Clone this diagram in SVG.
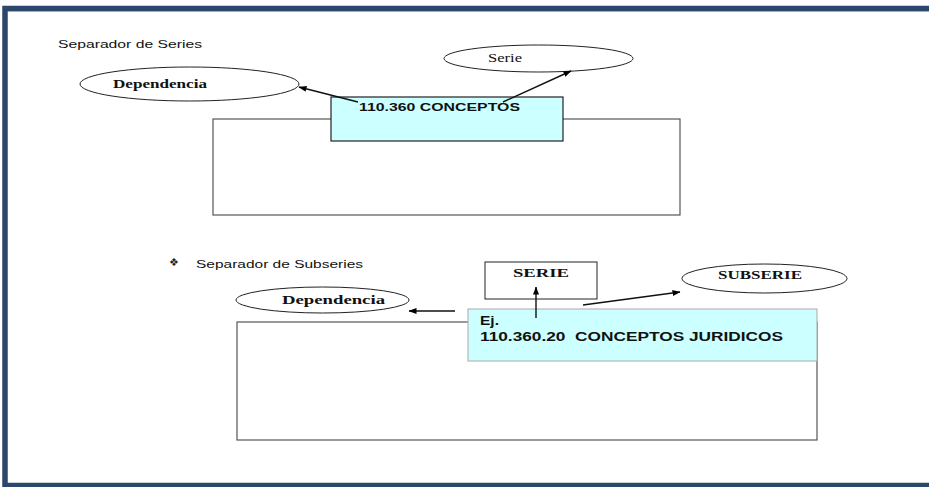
<svg xmlns="http://www.w3.org/2000/svg" width="929" height="487" viewBox="0 0 929 487">
<defs>
<marker id="ah" markerWidth="8" markerHeight="6" refX="7.5" refY="3" orient="auto" markerUnits="userSpaceOnUse">
<path d="M0,0 L8,3 L0,6 Z" fill="#000"/>
</marker>
<style>
.sans{font-family:"Liberation Sans",Arial,sans-serif;fill:#111}
.serifb{font-family:"Liberation Serif","Times New Roman",serif;font-weight:bold;fill:#111}
.serif{font-family:"Liberation Serif","Times New Roman",serif;fill:#111}
.ell{fill:#fff;stroke:#222;stroke-width:1}
.box{fill:#fff;stroke:#555;stroke-width:1.2}
.cyan{fill:#ccffff;stroke:#222;stroke-width:1.2}
.conn{stroke:#111;stroke-width:1.4;fill:none;marker-end:url(#ah)}
</style>
</defs>
<rect x="0" y="0" width="929" height="487" fill="#fff"/>
<rect x="5" y="8.5" width="960" height="477" fill="none" stroke="#2b476b" stroke-width="5.5"/>
<line x1="8" y1="11.5" x2="929" y2="11.5" stroke="#9fb0c4" stroke-width="1"/>

<text class="sans" x="58" y="48" font-size="11" textLength="144" lengthAdjust="spacingAndGlyphs">Separador de Series</text>

<g id="rect-series">
<rect class="box" x="213" y="119" width="467" height="96"/>
</g>
<g id="dependencia-1">
<ellipse class="ell" cx="189.5" cy="84" rx="109.5" ry="17"/>
<text class="serifb" x="113" y="88" font-size="12.5" textLength="94" lengthAdjust="spacingAndGlyphs">Dependencia</text>
</g>
<g id="serie-1">
<ellipse class="ell" cx="538.5" cy="58.5" rx="94.5" ry="13.5"/>
<text class="serif" x="488" y="62" font-size="11.5" textLength="34" lengthAdjust="spacingAndGlyphs">Serie</text>
</g>
<g id="conceptos">
<rect class="cyan" x="331" y="97" width="232" height="44"/>
<text class="sans" x="359" y="111" font-size="10.5" font-weight="bold" textLength="161" lengthAdjust="spacingAndGlyphs">110.360 CONCEPTOS</text>
</g>

<text x="169" y="266" font-size="11" fill="#222" style="font-family:'DejaVu Sans',sans-serif">❖</text>
<text class="sans" x="196" y="268" font-size="11" textLength="167" lengthAdjust="spacingAndGlyphs">Separador de Subseries</text>

<g id="rect-subseries">
<rect class="box" x="237" y="322" width="580" height="118"/>
</g>
<g id="dependencia-2">
<ellipse class="ell" cx="322.5" cy="300" rx="86.5" ry="13"/>
<text class="serifb" x="282" y="304" font-size="13.5" textLength="103" lengthAdjust="spacingAndGlyphs">Dependencia</text>
</g>
<g id="serie-2">
<rect x="485" y="262" width="112" height="37" fill="#fff" stroke="#222" stroke-width="1"/>
<text class="serifb" x="513" y="277" font-size="11.5" textLength="56" lengthAdjust="spacingAndGlyphs">SERIE</text>
</g>
<g id="subserie">
<ellipse class="ell" cx="764.5" cy="278.5" rx="82.5" ry="14.5"/>
<text class="serifb" x="718" y="279" font-size="11.5" textLength="84" lengthAdjust="spacingAndGlyphs">SUBSERIE</text>
</g>
<g id="conceptos-juridicos">
<rect x="468" y="309" width="349" height="52" fill="#ccffff" stroke="#aaa" stroke-width="1"/>
<text class="sans" x="480" y="325" font-size="12" font-weight="bold" textLength="19" lengthAdjust="spacingAndGlyphs">Ej.</text>
<text class="sans" x="480" y="341" font-size="12" font-weight="bold" textLength="303" lengthAdjust="spacingAndGlyphs" xml:space="preserve">110.360.20  CONCEPTOS JURIDICOS</text>
</g>

<g id="connectors">
<line class="conn" x1="358" y1="102" x2="299" y2="87"/>
<line class="conn" x1="503" y1="102" x2="571" y2="71"/>
<line class="conn" x1="455" y1="311" x2="409" y2="311"/>
<line class="conn" x1="536" y1="318" x2="536" y2="287"/>
<line class="conn" x1="583" y1="305" x2="680" y2="292"/>
</g>
</svg>
